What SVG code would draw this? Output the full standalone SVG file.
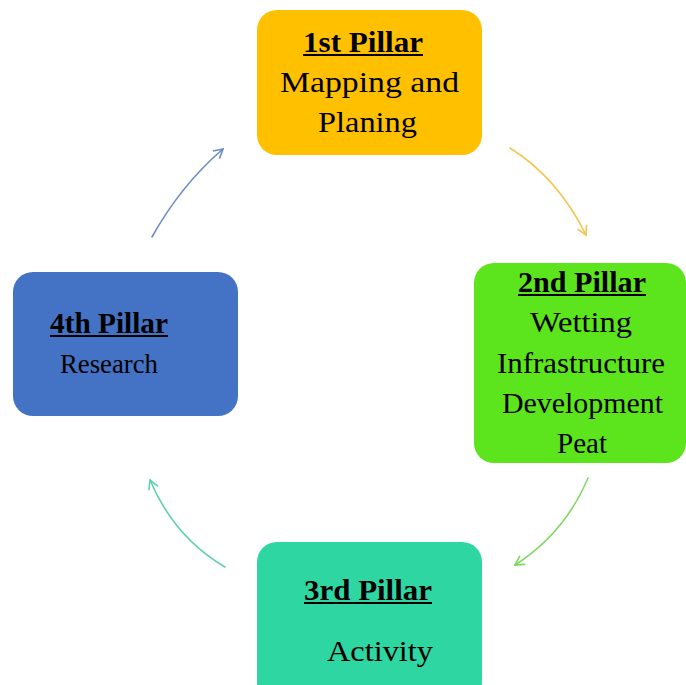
<svg xmlns="http://www.w3.org/2000/svg" width="686" height="685" viewBox="0 0 686 685">
<style>
text{font-family:"Liberation Serif","Times New Roman",serif;font-size:30px;fill:#000}
.h{font-weight:bold}
.r{font-size:27px}
.u{stroke:#000;stroke-width:2}
.c{fill:none;stroke-width:1.6;stroke-linecap:round}
</style>
<defs>
<marker id="mb" viewBox="0 0 12 12" refX="10" refY="6" markerWidth="12" markerHeight="12" markerUnits="userSpaceOnUse" orient="auto"><path d="M1,1 L10,6 L1,11" fill="none" stroke="#6a8bc8" stroke-width="1.6"/></marker>
<marker id="my" viewBox="0 0 12 12" refX="10" refY="6" markerWidth="12" markerHeight="12" markerUnits="userSpaceOnUse" orient="auto"><path d="M1,1 L10,6 L1,11" fill="none" stroke="#f0c850" stroke-width="1.6"/></marker>
<marker id="mg" viewBox="0 0 12 12" refX="10" refY="6" markerWidth="12" markerHeight="12" markerUnits="userSpaceOnUse" orient="auto"><path d="M1,1 L10,6 L1,11" fill="none" stroke="#80d860" stroke-width="1.6"/></marker>
<marker id="mt" viewBox="0 0 12 12" refX="10" refY="6" markerWidth="12" markerHeight="12" markerUnits="userSpaceOnUse" orient="auto"><path d="M1,1 L10,6 L1,11" fill="none" stroke="#5ed0b0" stroke-width="1.6"/></marker>
</defs>
<rect width="686" height="685" fill="#fff"/>
<g id="connectors">
<path class="c" d="M152,237 Q181,185 223,149" stroke="#6a8bc8" marker-end="url(#mb)"/>
<path class="c" d="M510,148 Q558,178 586,235" stroke="#f0c850" marker-end="url(#my)"/>
<path class="c" d="M588,478 Q565,533 515,565" stroke="#80d860" marker-end="url(#mg)"/>
<path class="c" d="M225,567 Q174,537 150,480" stroke="#5ed0b0" marker-end="url(#mt)"/>
</g>
<g id="pillar1">
<rect x="257" y="10" width="225" height="145" rx="20" fill="#ffc000"/>
<text class="h" x="303" y="52" textLength="120" lengthAdjust="spacingAndGlyphs">1st Pillar</text>
<line class="u" x1="303" y1="55" x2="423" y2="55"/>
<text x="280" y="92" textLength="179" lengthAdjust="spacingAndGlyphs">Mapping and</text>
<text x="318" y="132" textLength="99" lengthAdjust="spacingAndGlyphs">Planing</text>
</g>
<g id="pillar2">
<rect x="474" y="263" width="212" height="200" rx="20" fill="#5ce41c"/>
<text class="h" x="518" y="292" textLength="128" lengthAdjust="spacingAndGlyphs">2nd Pillar</text>
<line class="u" x1="518" y1="295" x2="646" y2="295"/>
<text x="530" y="332" textLength="102" lengthAdjust="spacingAndGlyphs">Wetting</text>
<text x="497" y="373" textLength="168" lengthAdjust="spacingAndGlyphs">Infrastructure</text>
<text x="502" y="413" textLength="161" lengthAdjust="spacingAndGlyphs">Development</text>
<text x="557" y="453" textLength="50" lengthAdjust="spacingAndGlyphs">Peat</text>
</g>
<g id="pillar3">
<rect x="257" y="542" width="225" height="160" rx="20" fill="#2ed6a2"/>
<text class="h" x="304" y="600" textLength="128" lengthAdjust="spacingAndGlyphs">3rd Pillar</text>
<line class="u" x1="304" y1="603" x2="432" y2="603"/>
<text x="327" y="661" textLength="106" lengthAdjust="spacingAndGlyphs">Activity</text>
</g>
<g id="pillar4">
<rect x="13" y="272" width="225" height="144" rx="20" fill="#4472c4"/>
<text class="h" x="50" y="333" textLength="118" lengthAdjust="spacingAndGlyphs">4th Pillar</text>
<line class="u" x1="50" y1="336" x2="168" y2="336"/>
<text class="r" x="60" y="373" textLength="98" lengthAdjust="spacingAndGlyphs">Research</text>
</g>
</svg>
